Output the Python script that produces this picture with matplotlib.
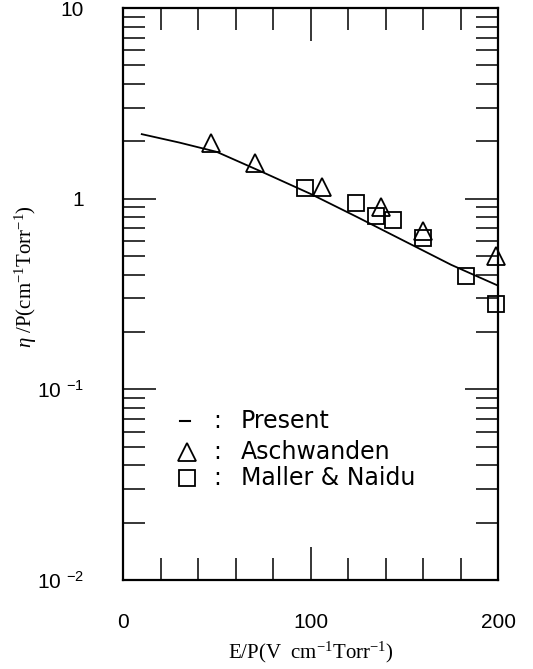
import numpy as np
import matplotlib
matplotlib.use("Agg")
import matplotlib.pyplot as plt

plt.rcParams['mathtext.fontset'] = 'custom'
plt.rcParams['mathtext.rm'] = 'Liberation Serif'
plt.rcParams['mathtext.it'] = 'Liberation Serif:italic'

# present calculation (solid line)
line_x = [10, 30, 50, 75, 100, 125, 150, 175, 200]
line_y = [2.18, 1.97, 1.76, 1.37, 1.06, 0.80, 0.60, 0.45, 0.35]

# Aschwanden (triangles)
tri_x = [47, 70.5, 106, 137.5, 160, 199]
tri_y = [1.96, 1.54, 1.155, 0.90, 0.68, 0.50]

# Maller & Naidu (squares)
sq_x = [97, 124, 135, 144, 160, 183, 199]
sq_y = [1.14, 0.95, 0.815, 0.77, 0.62, 0.395, 0.28]

xticks = [0, 100, 200]
xtick_labels = ['0', '100', '200']
yticks = [0.01, 0.1, 1, 10]
ytick_labels = [r'10 $^{\mathregular{-2}}$', r'10 $^{\mathregular{-1}}$', '1', '10']

legend_labels = ['Present', 'Aschwanden', 'Maller & Naidu']

fig = plt.figure(figsize=(5.33, 6.69), dpi=100)
ax = fig.add_axes([0.2308, 0.1330, 0.7036, 0.855])

ax.plot(line_x, line_y, color='black', lw=1.3)
mk = dict(ls='none', mfc='none', mec='black', mew=1.3, clip_on=False)
ax.plot(tri_x, tri_y, marker='^', ms=12.5, **mk)
ax.plot(sq_x, sq_y, marker='s', ms=11.5, **mk)

ax.set_yscale('log')
ax.set_xlim(0, 200)
ax.set_ylim(0.01, 10)

ax.set_xticks(xticks)
ax.set_xticklabels(xtick_labels)
ax.set_xticks(np.arange(20, 200, 20), minor=True)
ax.set_yticks(yticks)
ax.set_yticklabels(ytick_labels)
ax.yaxis.set_minor_locator(matplotlib.ticker.LogLocator(base=10, subs=np.arange(2, 10)))
ax.yaxis.set_minor_formatter(matplotlib.ticker.NullFormatter())

ax.tick_params(which='both', direction='in', top=True, right=True, width=1.1, colors='black')
ax.tick_params(which='major', length=23.5)
ax.tick_params(which='minor', length=16)
ax.tick_params(axis='x', which='major', pad=24)
ax.tick_params(axis='y', which='major', pad=28)
for lab in ax.get_xticklabels() + ax.get_yticklabels():
    lab.set_family(['Liberation Sans Narrow', 'Liberation Sans'])
    lab.set_fontsize(15)

for sp in ax.spines.values():
    sp.set_linewidth(1.6)

ax.set_xlabel(r'E/P(V  cm$^{-1}$Torr$^{-1}$)', family='Liberation Serif', fontsize=15)
ax.set_ylabel(r'$\eta$ /P(cm$^{-1}$Torr$^{-1}$)', family='Liberation Serif', fontsize=15)
ax.xaxis.set_label_coords(0.5, -0.105)
ax.yaxis.set_label_coords(-0.225, 0.53)

# hand-drawn legend
rows = [0.278, 0.224, 0.179]
ax.plot([0.152, 0.178], [rows[0], rows[0]], color='black', lw=1.5, transform=ax.transAxes)
ax.plot([0.170], [rows[1]], marker='^', transform=ax.transAxes, ms=12.5, **mk)
ax.plot([0.170], [rows[2]], marker='s', transform=ax.transAxes, ms=11.5, **mk)
for r, lab in zip(rows, legend_labels):
    ax.text(0.25, r, ':', transform=ax.transAxes, ha='center', va='center', fontsize=17)
    ax.text(0.314, r, lab, transform=ax.transAxes, ha='left', va='center', fontsize=17)

fig.savefig('out.png', dpi=100)
